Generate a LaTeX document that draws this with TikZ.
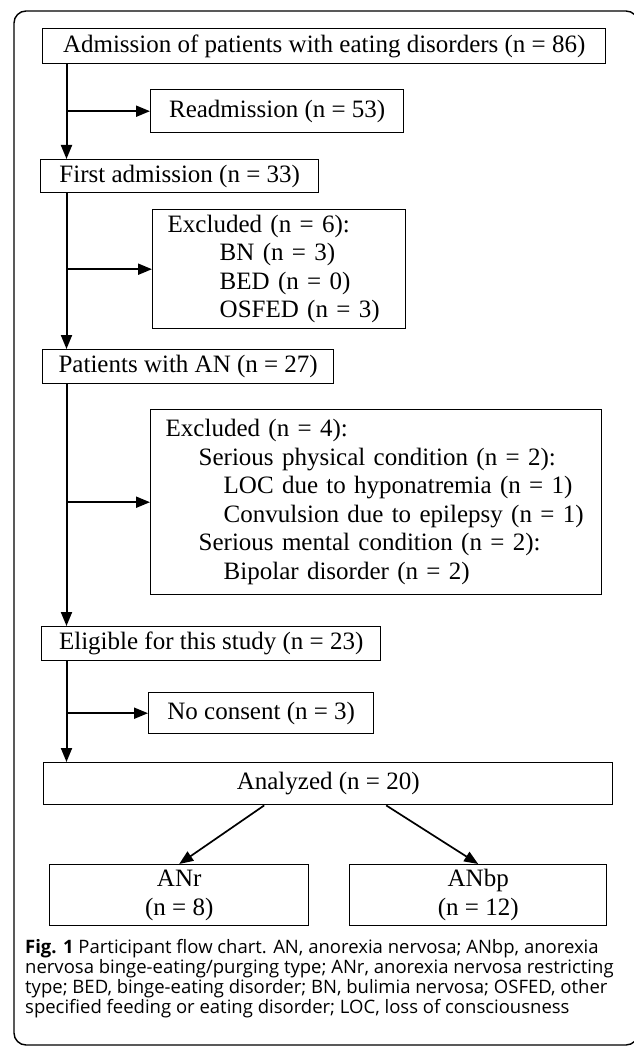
\documentclass[tikz,border=0pt]{standalone}
\usepackage{fontspec}
\setmainfont{Liberation Serif}
\newfontfamily\legende{Open Sans}
\usetikzlibrary{arrows.meta,positioning}
\tikzset{
Boite/.style={
 draw=black,
 line width=1.4pt,
 anchor=north west,
 inner xsep=15pt,
 inner ysep=0pt,
 font=\fontsize{25}{28.5}\selectfont
 },
Fleche/.style={
 draw=black,
 line width=2pt,
 -{Triangle[length=14pt,width=11pt]}
 },
Cadre/.style={
 draw=black,
 line width=1.4pt,
 rounded corners=12pt
 }
}

\begin{document}
\begin{tikzpicture}[x=1pt,y=-1pt]
\useasboundingbox (0,0) rectangle (633,1048);
\draw[Cadre] (14,11) rectangle (638,1045);
\node[Boite, minimum width=563pt, minimum height=35pt] (admission) at (42,28) {Admission of patients with eating disorders (n = 86)};
\node[Boite, minimum width=253pt, minimum height=43pt] (readmission) at (150,89) {Readmission (n = 53)};
\node[Boite, minimum width=278pt, minimum height=33pt] (premiere) at (40,159) {First admission (n = 33)};
\node[Boite, text width=223pt, align=left, minimum height=119pt] (exclu1) at (152,209) {Excluded (n = 6):\\
\hspace*{52pt}BN (n = 3)\\
\hspace*{52pt}BED (n = 0)\\
\hspace*{52pt}OSFED (n = 3)};
\node[Boite, minimum width=291pt, minimum height=34pt] (patientsAN) at (42,349) {Patients with AN (n = 27)};
\node[Boite, text width=421pt, align=left, minimum height=185pt] (exclu2) at (150,409) {Excluded (n = 4):\\
\hspace*{33pt}Serious physical condition (n = 2):\\
\hspace*{58pt}LOC due to hyponatremia (n = 1)\\
\hspace*{58pt}Convulsion due to epilepsy (n = 1)\\
\hspace*{33pt}Serious mental condition (n = 2):\\
\hspace*{58pt}Bipolar disorder (n = 2)};
\node[Boite, minimum width=339pt, minimum height=34pt] (eligible) at (41,626) {Eligible for this study (n = 23)};
\node[Boite, minimum width=225pt, minimum height=41pt] (refus) at (148,692) {No consent (n = 3)};
\node[Boite, minimum width=569pt, minimum height=42pt] (analyse) at (43,762) {Analyzed (n = 20)};
\node[Boite, minimum width=259pt, minimum height=61pt, align=center] (anr) at (49,864) {ANr\\(n = 8)};
\node[Boite, minimum width=257pt, minimum height=61pt, align=center] (anbp) at (349,864) {ANbp\\(n = 12)};
\node[anchor=north west, inner sep=0pt, align=left, font=\legende\fontsize{18.5}{20}\selectfont] (legende) at (25,939) {\textbf{Fig. 1} Participant flow chart. AN, anorexia nervosa; ANbp, anorexia\\
nervosa binge-eating/purging type; ANr, anorexia nervosa restricting\\
type; BED, binge-eating disorder; BN, bulimia nervosa; OSFED, other\\
specified feeding or eating disorder; LOC, loss of consciousness};
\coordinate (axe) at (66.5,0);
\draw[Fleche] (admission.south -| axe) -- (premiere.north -| axe);
\draw[Fleche] (axe |- readmission.west) -- (readmission.west);
\draw[Fleche] (premiere.south -| axe) -- (patientsAN.north -| axe);
\draw[Fleche] (axe |- exclu1.west) -- (exclu1.west);
\draw[Fleche] (patientsAN.south -| axe) -- (eligible.north -| axe);
\draw[Fleche] (axe |- exclu2.west) -- (exclu2.west);
\draw[Fleche] (eligible.south -| axe) -- (analyse.north -| axe);
\draw[Fleche] (axe |- refus.west) -- (refus.west);
\draw[Fleche, line width=1.7pt] ([xshift=-64pt]analyse.south) -- (anr.north);
\draw[Fleche, line width=1.7pt] ([xshift=58pt]analyse.south) -- (anbp.north);
\end{tikzpicture}
\end{document}
